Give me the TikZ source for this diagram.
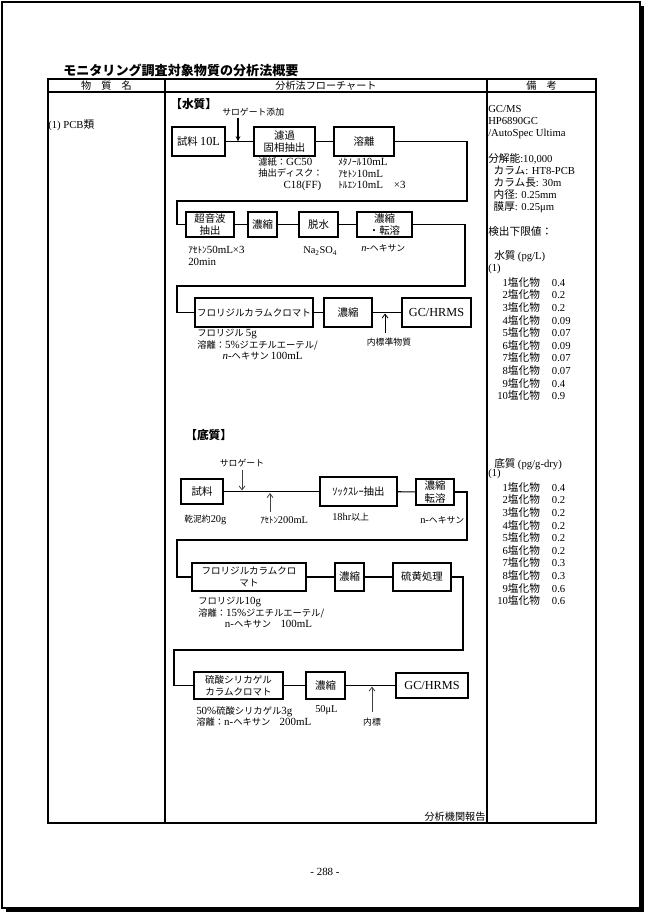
\documentclass[tikz,border=0pt]{standalone}
\usepackage{fontspec}
\setmainfont{Liberation Serif}
\newfontfamily\jp{Noto Sans CJK JP}
\newfontfamily\jps[Scale=0.85]{Noto Sans CJK JP}
\usetikzlibrary{arrows.meta}
\newcommand\lat[1]{{\rmfamily #1}}
\newcommand\fsTitle{\fontsize{9.8}{11}\selectfont}
\newcommand\fsHdr{\fontsize{7.6}{9}\selectfont}
\newcommand\fsHead{\fontsize{8.8}{10}\selectfont}
\newcommand\fsBox{\fontsize{9.2}{9.4}\selectfont}
\newcommand\fsBoxS{\fontsize{8.4}{9.2}\selectfont}
\newcommand\fsNote{\fontsize{8.2}{8.7}\selectfont}
\newcommand\fsLbl{\fontsize{7.8}{8.7}\selectfont}
\newcommand\fsSide{\fontsize{8}{9.05}\selectfont}

\begin{document}
\begin{tikzpicture}[x=0.75pt,y=-0.75pt,
    box/.style={draw,line width=0.9pt,align=center,inner sep=0pt,font=\jps\fsBox},
    wh/.style 2 args={minimum width=#1*0.75pt,minimum height=#2*0.75pt},
    note/.style={anchor=north west,inner sep=0pt,align=left,font=\jps\fsNote},
    lbl/.style={inner sep=0pt,font=\jps\fsLbl},
    side/.style={anchor=north west,inner sep=0pt,align=left,font=\jp\fsSide},
    link/.style={line width=0.8pt},
    arr/.style={-{Stealth[length=4pt,width=3.5pt]},line width=0.8pt},
    arrthin/.style={-{Straight Barb[length=3pt,width=4.5pt]},line width=0.6pt,black!75},
    tbl/.style={line width=1pt}
  ]
  \useasboundingbox (0,0) rectangle (647,913);
  % page frame
  \draw[line width=0.8pt] (2,2) rectangle (640,908);
  \fill (640,6) rectangle (644,912);
  \fill (6,908) rectangle (644,912);

  % title and table
  \node[font=\jp\fsTitle\bfseries,anchor=base west,inner sep=0pt] (title) at (63,76) {モニタリング調査対象物質の分析法概要};
  \draw[tbl] (48,79) rectangle (596,823);
  \draw[tbl] (48,92) -- (596,92);
  \draw[tbl] (165,79) -- (165,823);
  \draw[tbl] (487,79) -- (487,823);
  \node[font=\jp\fsHdr] (hname) at (106.5,85.5) {物　質　名};
  \node[font=\jp\fsHdr] (hflow) at (326,85.5) {分析法フローチャート};
  \node[font=\jp\fsHdr] (hnote) at (541.5,85.5) {備　考};
  \node[side,anchor=west] (pcb) at (48,125) {\lat{(1) PCB}類};
  \node[lbl,font=\jp\fsHdr,anchor=south east,inner sep=1pt] (src) at (487,823) {分析機関報告};
  \node[font=\fsNote] (pg) at (325,872) {- 288 -};

  % water
  \node[font=\jp\fsHead\bfseries,anchor=west,inner sep=0pt] (hw) at (170,104) {【水質】};
  \node[lbl,anchor=west] (surrw) at (222,112) {サロゲート添加};
  \node[box,wh={53}{29}] (sampw) at (198.5,141.5) {試料 \lat{10L}};
  \node[box,wh={61}{29}] (filt) at (284.5,141.5) {濾過\\固相抽出};
  \node[box,wh={60}{29}] (elute) at (364,141.5) {溶離};
  \coordinate (surrwa) at (238,118);
  \coordinate (surrwb) at (238,141.5);
  \draw[link] (sampw) -- (filt);
  \draw[link] (filt) -- (elute);
  \draw[arr] (surrwa) -- (surrwb);
  \node[note] (filtnote) at (258,157) {濾紙：\lat{GC50}\\抽出ディスク：\\\hspace*{19pt}\lat{C18(FF)}};
  \node[note] (elutenote) at (338,158) {ﾒﾀﾉｰﾙ\lat{10mL}\\ｱｾﾄﾝ\lat{10mL}\\ﾄﾙｴﾝ\lat{10mL\quad ×3}};

  \node[box,wh={48}{25}] (sonic) at (210,224.5) {超音波\\抽出};
  \node[box,wh={29}{25}] (concw1) at (262.5,224.5) {濃縮};
  \node[box,wh={39}{25}] (dehyd) at (318.5,224.5) {脱水};
  \node[box,wh={55}{25}] (concw2) at (384.5,224.5) {濃縮\\・転溶};
  \coordinate (w1) at (467,201);
  \coordinate (w2) at (177,201);
  \draw[link] (elute) -| (w1) -- (w2) |- (sonic);
  \draw[link] (sonic) -- (concw1);
  \draw[link] (concw1) -- (dehyd);
  \draw[link] (dehyd) -- (concw2);
  \node[note] (sonicnote) at (188,246) {ｱｾﾄﾝ\lat{50mL×3}\\\lat{20min}};
  \node[lbl,anchor=west] (dehydnote) at (303,251) {\lat{Na\textsubscript{2}SO\textsubscript{4}}};
  \node[lbl,anchor=west] (concw2note) at (361,248) {\lat{\textit{n}-}ヘキサン};

  \node[box,wh={118}{29},font=\jps\fsBoxS] (floriw) at (254,312.5) {フロリジルカラムクロマト};
  \node[box,wh={48}{29}] (concw3) at (348,312.5) {濃縮};
  \node[box,wh={69}{29}] (gcw) at (436.5,312.5) {\lat{GC/HRMS}};
  \coordinate (w3) at (465,286);
  \coordinate (w4) at (177,286);
  \draw[link] (concw2) -| (w3) -- (w4) |- (floriw);
  \draw[link] (floriw) -- (concw3);
  \draw[link] (concw3) -- (gcw);
  \coordinate (istdwa) at (385,333);
  \coordinate (istdwb) at (385,313.5);
  \draw[arrthin,black] (istdwa) -- (istdwb);
  \node[lbl] (istdw) at (389,342) {内標準物質};
  \node[note] (floriwnote) at (197,329) {フロリジル \lat{5g}\\溶離：\lat{5\%}ジエチルエーテル/\\\hspace*{19pt}\lat{\textit{n}-}ヘキサン \lat{100mL}};

  % sediment
  \node[font=\jp\fsHead\bfseries,anchor=west,inner sep=0pt] (hs) at (185,435) {【底質】};
  \node[lbl] (surrs) at (242,463) {サロゲート};
  \node[box,wh={42}{25}] (samps) at (202,491.5) {試料};
  \node[box,wh={77}{29}] (soxh) at (358.5,491.5) {ｿｯｸｽﾚｰ抽出};
  \node[box,wh={38}{26}] (concs1) at (435,492) {濃縮\\転溶};
  \draw[link] (samps) -- (soxh);
  \draw[link] (soxh) -- (concs1);
  \coordinate (surrsa) at (242,470);
  \coordinate (surrsb) at (242,490.5);
  \draw[arrthin] (surrsa) -- (surrsb);
  \coordinate (acea) at (270,512);
  \coordinate (aceb) at (270,493);
  \draw[arrthin] (acea) -- (aceb);
  \node[lbl,anchor=west] (sampsnote) at (184,520) {乾泥約\lat{20g}};
  \node[lbl,anchor=west] (acenote) at (260,520) {ｱｾﾄﾝ\lat{200mL}};
  \node[lbl,anchor=west] (soxhnote) at (332,517) {\lat{18hr}以上};
  \node[lbl,anchor=west] (concs1note) at (420,520) {\lat{n-}ヘキサン};

  \node[box,wh={114}{28},font=\jps\fsBoxS] (floris) at (249,577) {フロリジルカラムクロ\\マト};
  \node[box,wh={29}{28}] (concs2) at (349.5,577) {濃縮};
  \node[box,wh={58}{28}] (sulf) at (422,577) {硫黄処理};
  \coordinate (s1) at (467,540);
  \coordinate (s2) at (177,540);
  \draw[link] (concs1) -| (s1) -- (s2) |- (floris);
  \draw[link] (floris) -- (concs2);
  \draw[link] (concs2) -- (sulf);
  \node[note] (florisnote) at (198,597) {フロリジル\lat{10g}\\溶離：\lat{15\%}ジエチルエーテル/\\\hspace*{20pt}\lat{n-}ヘキサン\quad\lat{100mL}};

  \node[box,wh={89}{27},font=\jps\fsBoxS] (silica) at (238.5,685.5) {硫酸シリカゲル\\カラムクロマト};
  \node[box,wh={39}{27}] (concs3) at (325.5,685.5) {濃縮};
  \node[box,wh={72}{25}] (gcs) at (432,685.5) {\lat{GC/HRMS}};
  \coordinate (s3) at (463,650);
  \coordinate (s4) at (174,650);
  \draw[link] (sulf) -| (s3) -- (s4) |- (silica);
  \draw[link] (silica) -- (concs3);
  \draw[link] (concs3) -- (gcs);
  \coordinate (istdsa) at (372,712);
  \coordinate (istdsb) at (372,686.5);
  \draw[arrthin] (istdsa) -- (istdsb);
  \node[lbl] (istds) at (372,722) {内標};
  \node[lbl,anchor=west] (concs3note) at (315,710) {\lat{50μL}};
  \node[note] (silicanote) at (196,706) {\lat{50\%}硫酸シリカゲル\lat{3g}\\溶離：\lat{n-}ヘキサン\quad\lat{200mL}};

  % remarks column
  \node[side] (instr) at (488,105) {\lat{GC/MS}\\\lat{HP6890GC}\\\lat{/AutoSpec Ultima}};
  \node[side] (cond) at (488,153) {分解能\lat{:10,000}\\\hspace*{4pt}カラム\lat{: HT8-PCB}\\\hspace*{4pt}カラム長\lat{: 30m}\\\hspace*{4pt}内径\lat{: 0.25mm}\\\hspace*{4pt}膜厚\lat{: 0.25μm}};
  \node[side] (dl) at (488,226) {検出下限値：};
  \node[side] (dlw) at (494,250) {水質 \lat{(pg/L)}};
  \node[side] (dlwn) at (488,264) {\lat{(1)}};
  \node[side] (dlwtab) at (497,277) {\begin{tabular}{@{}r@{}l@{\hspace{9pt}}l@{}}
    \lat{1}&塩化物&\lat{0.4}\\ \lat{2}&塩化物&\lat{0.2}\\ \lat{3}&塩化物&\lat{0.2}\\
    \lat{4}&塩化物&\lat{0.09}\\ \lat{5}&塩化物&\lat{0.07}\\ \lat{6}&塩化物&\lat{0.09}\\
    \lat{7}&塩化物&\lat{0.07}\\ \lat{8}&塩化物&\lat{0.07}\\ \lat{9}&塩化物&\lat{0.4}\\
    \lat{10}&塩化物&\lat{0.9}\end{tabular}};
  \node[side] (dls) at (494,458) {底質 \lat{(pg/g-dry)}};
  \node[side] (dlsn) at (488,469) {\lat{(1)}};
  \node[side] (dlstab) at (497,482) {\begin{tabular}{@{}r@{}l@{\hspace{9pt}}l@{}}
    \lat{1}&塩化物&\lat{0.4}\\ \lat{2}&塩化物&\lat{0.2}\\ \lat{3}&塩化物&\lat{0.2}\\
    \lat{4}&塩化物&\lat{0.2}\\ \lat{5}&塩化物&\lat{0.2}\\ \lat{6}&塩化物&\lat{0.2}\\
    \lat{7}&塩化物&\lat{0.3}\\ \lat{8}&塩化物&\lat{0.3}\\ \lat{9}&塩化物&\lat{0.6}\\
    \lat{10}&塩化物&\lat{0.6}\end{tabular}};
\end{tikzpicture}
\end{document}
